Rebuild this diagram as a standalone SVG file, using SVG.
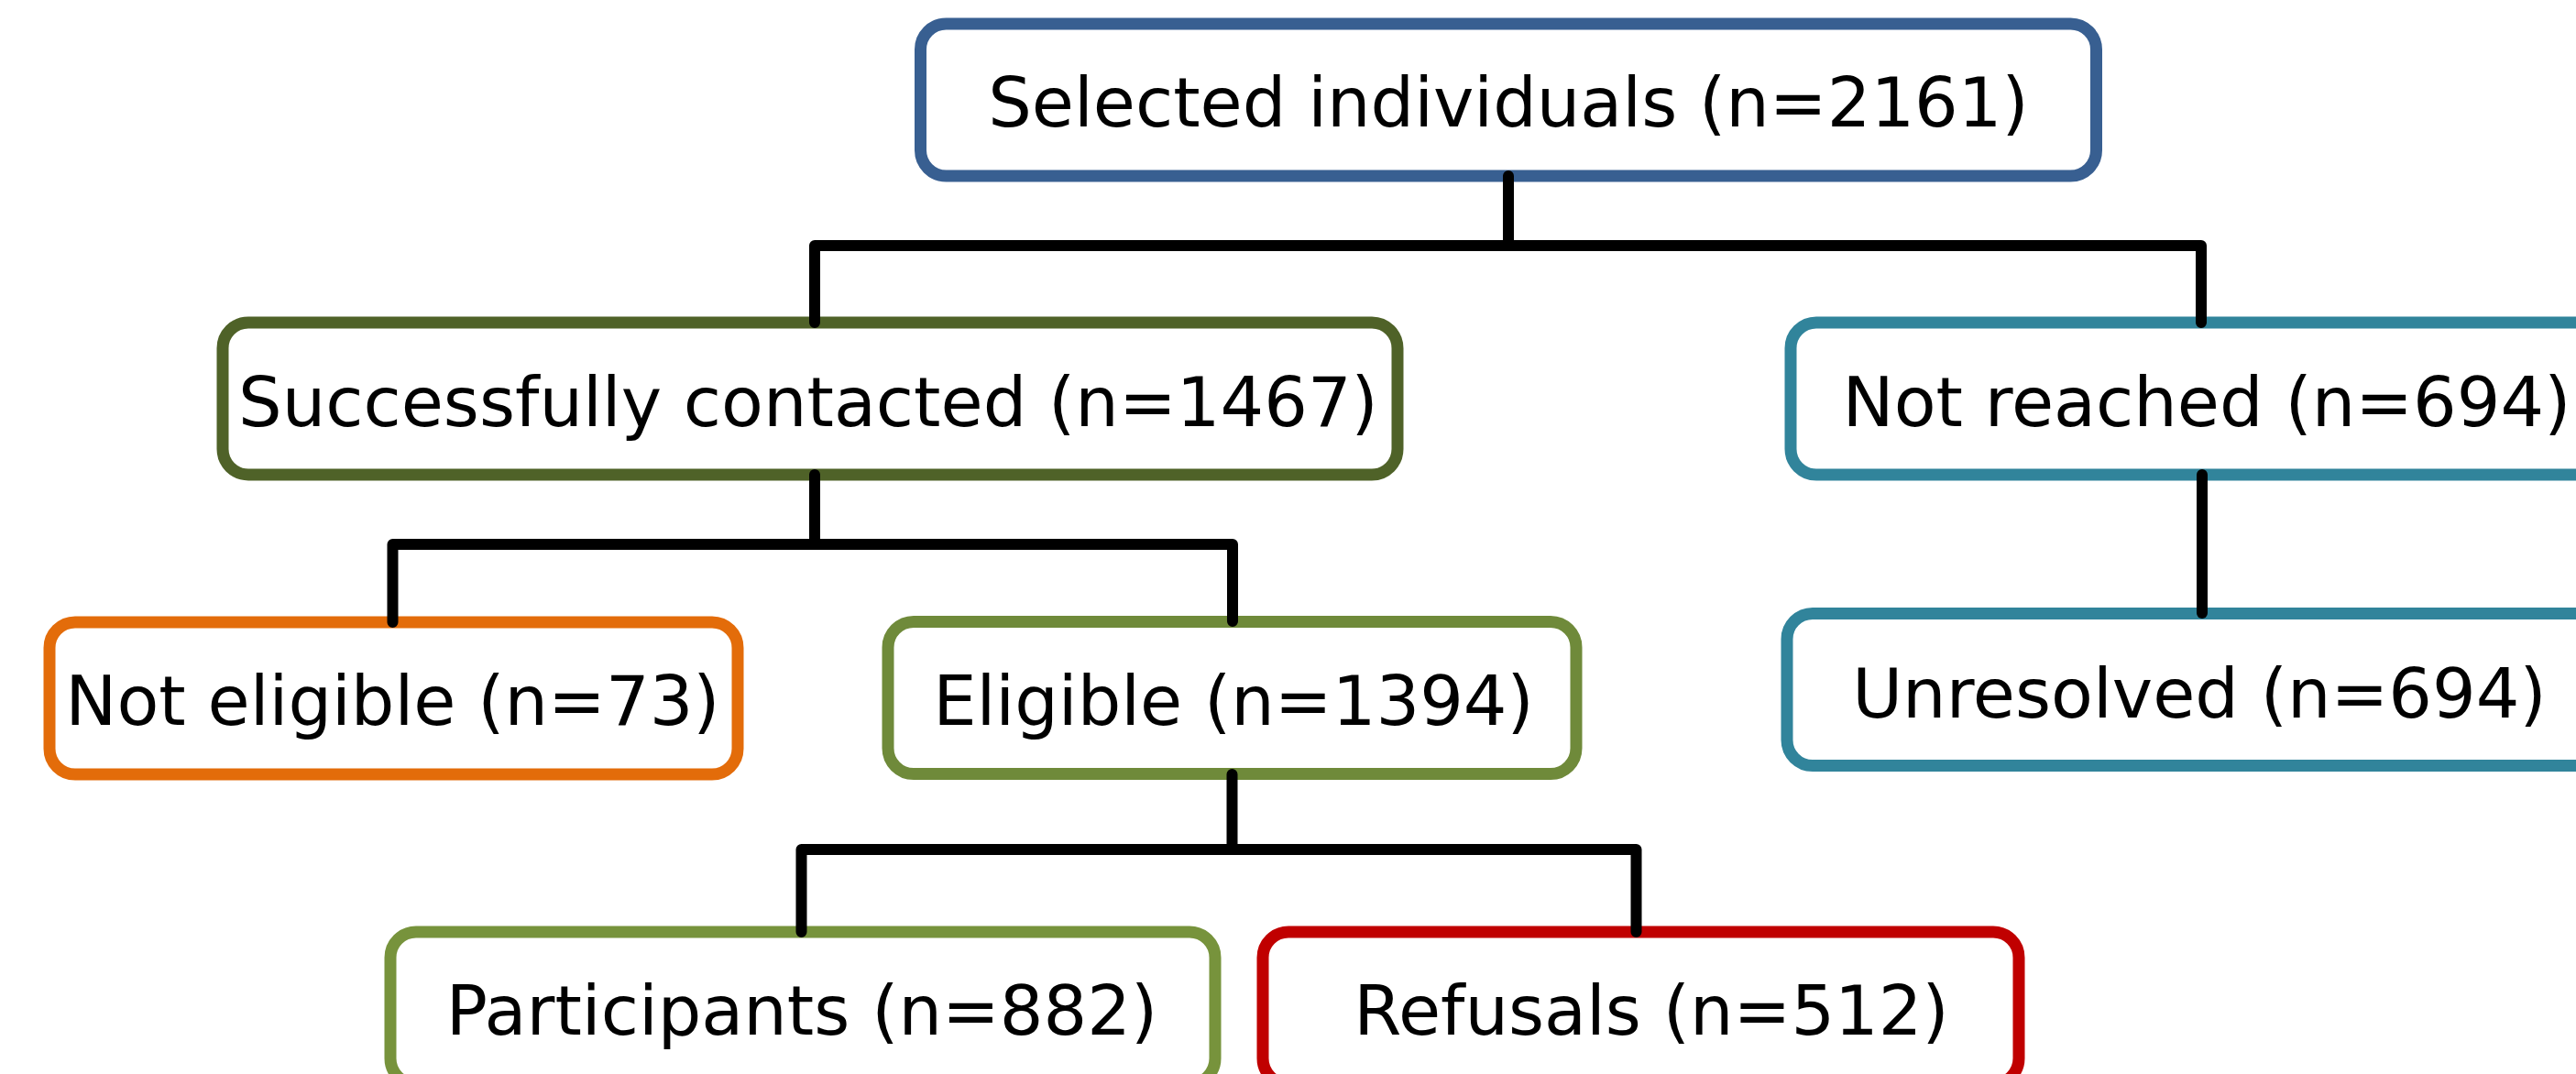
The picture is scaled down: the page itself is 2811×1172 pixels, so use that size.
<svg xmlns="http://www.w3.org/2000/svg" width="2811" height="1172" viewBox="0 0 2811 1172">
<style>
.box{fill:#ffffff;stroke-width:13}
.lbl{font-family:"DejaVu Sans","Verdana",sans-serif;font-size:75px;fill:#000000;text-anchor:middle}
.conn{stroke:#000000;stroke-width:12;stroke-linecap:round;stroke-linejoin:round;fill:none}
</style>
<rect width="2811" height="1172" fill="#ffffff"/>
<g id="selected">
<rect class="box" x="1004.5" y="26" width="1283" height="166" rx="28" stroke="#385F91"/>
<text class="lbl" x="1646" y="138">Selected individuals (n=2161)</text>
</g>
<g id="contacted">
<rect class="box" x="243" y="352" width="1282" height="166" rx="28" stroke="#4F6228"/>
<text class="lbl" x="882" y="464.5">Successfully contacted (n=1467)</text>
</g>
<g id="not-reached">
<rect class="box" x="1954" y="352" width="900" height="166" rx="28" stroke="#31849B"/>
<text class="lbl" x="2408" y="464.5">Not reached (n=694)</text>
</g>
<g id="not-eligible">
<rect class="box" x="54" y="679" width="751" height="166" rx="28" stroke="#E36C0A"/>
<text class="lbl" x="428.5" y="791">Not eligible (n=73)</text>
</g>
<g id="eligible">
<rect class="box" x="969" y="678.5" width="751" height="166" rx="28" stroke="#6F8A3A"/>
<text class="lbl" x="1346" y="790.5">Eligible (n=1394)</text>
</g>
<g id="unresolved">
<rect class="box" x="1950" y="669.5" width="903" height="166" rx="28" stroke="#31849B"/>
<text class="lbl" x="2400" y="782.5">Unresolved (n=694)</text>
</g>
<g id="participants">
<rect class="box" x="426" y="1017" width="900" height="166" rx="28" stroke="#77933C"/>
<text class="lbl" x="875" y="1129">Participants (n=882)</text>
</g>
<g id="refusals">
<rect class="box" x="1378" y="1017" width="825" height="166" rx="28" stroke="#C00000"/>
<text class="lbl" x="1802" y="1129">Refusals (n=512)</text>
</g>
<g id="connectors">
<path class="conn" d="M1646,192 V268 M889,352 V268 H2402 V352"/>
<path class="conn" d="M889,518 V594 M428.5,679 V594 H1345 V678"/>
<path class="conn" d="M2403,518 V669"/>
<path class="conn" d="M1344.5,845 V927 M874.5,1017 V927 H1785.5 V1017"/>
</g>
</svg>
